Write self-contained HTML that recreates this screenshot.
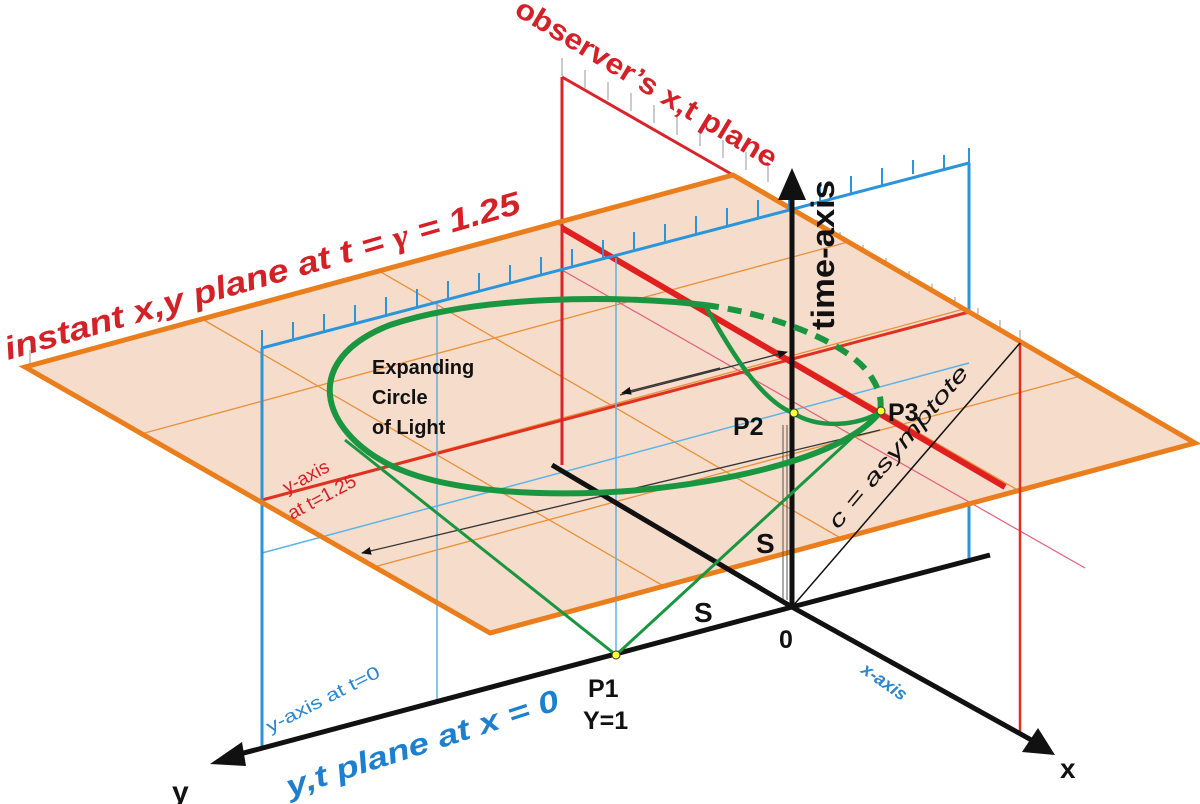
<!DOCTYPE html>
<html><head><meta charset="utf-8"><style>
html,body{margin:0;padding:0;background:#fff;}
svg{display:block;}
text{font-family:"Liberation Sans",Arial,sans-serif;}
</style></head><body>
<svg width="1200" height="804" viewBox="0 0 1200 804" xmlns="http://www.w3.org/2000/svg">
<defs>
<marker id="ah" markerWidth="10" markerHeight="8" refX="9" refY="4" orient="auto" markerUnits="userSpaceOnUse"><path d="M0,0 L10,4 L0,8 Z" fill="#111"/></marker>
</defs>
<g stroke="#b8b8c0" stroke-width="1.5">
<path d="M562,58v18 M585,70v18 M608,82v18 M631,93v18 M654,105v18 M677,117v18 M700,128v18 M723,140v18 M746,152v18 M768,164v18"/>
<path d="M817,220v18 M840,232v18 M863,245v18 M886,258v18 M909,271v18 M932,284v18 M955,297v18 M978,308v18 M1000,320v18 M1020,330v18"/>
<path d="M30,350v18 M48,358v18 M68,370v18 M88,381v18 M110,394v18 M130,405v18 M150,417v18 M170,428v18 M190,440v18 M210,451v18 M230,463v18 M250,474v18 M270,486v18 M290,497v18 M310,509v18 M330,520v18 M350,532v18 M370,543v18 M390,555v18 M410,566v18 M430,578v18 M450,589v18 M470,601v18 M490,613v18"/>
</g>
<path d="M969,163 L969,560" stroke="#2a95db" stroke-width="3" fill="none"/>
<path d="M562,77 L733,175" stroke="#d9242b" stroke-width="3" fill="none"/>
<path d="M25,367 L733,175 L1195,443 L490,633 Z" fill="#f5dccb" stroke="none"/>
<g stroke="#e8913a" stroke-width="1.3" fill="none">
<path d="M202,319 L667,588 M379,271 L844,540 M556,223 L1021,492"/>
<path d="M141,434 L848,242 M257,501 L964,309 M374,567 L1081,376"/>
</g>
<path d="M262,553 L969,363" stroke="#5ab4e8" stroke-width="1.5"/>
<path d="M562,270 L1085,568" stroke="#e0607a" stroke-width="1.2"/>
<path d="M262,500 L969,312" stroke="#e03020" stroke-width="3"/>
<path d="M562,228 L1005,487" stroke="#e02020" stroke-width="6"/>
<path d="M562,77 L562,465" stroke="#d9242b" stroke-width="3"/>
<path d="M262,348 L262,748" stroke="#2a95db" stroke-width="3"/>
<path d="M437,303 L437,700" stroke="#5ab4e8" stroke-width="1.5"/>
<path d="M616,258 L616,655" stroke="#5ab4e8" stroke-width="1.5"/>
<path d="M25,367 L733,175 L1195,443 L490,633 Z" fill="none" stroke="#ea7d1c" stroke-width="5" stroke-linejoin="miter"/>
<path d="M262,348 L969,163" stroke="#2a95db" stroke-width="3" fill="none"/>
<g stroke="#2a95db" stroke-width="2">
<path d="M262,330v18 M293,322v18 M324,314v18 M355,305v18 M386,297v18 M417,289v18 M448,281v18 M479,273v18 M510,265v18 M541,257v18 M572,249v18 M603,240v18 M634,232v18 M665,224v18 M696,216v18 M727,208v18 M758,200v18 M789,192v18 M820,184v18 M851,176v18 M882,168v18 M913,160v14 M944,155v14 M969,148v15"/>
</g>
<path d="M1020,343 L1020,735" stroke="#e03020" stroke-width="2.5"/>
<path d="M792,607 L1020,343" stroke="#111" stroke-width="1.5"/>
<path d="M783,425 L783,600 M787,425 L787,600" stroke="#555" stroke-width="1"/>
<path d="M620,395 L787,352" stroke="#333" stroke-width="1.3" marker-end="url(#ah)"/>
<path d="M720,368 L622,393" stroke="#333" stroke-width="1.3" marker-end="url(#ah)"/>
<path d="M880,430 L362,553" stroke="#333" stroke-width="1.3" marker-end="url(#ah)"/>
<g stroke="#111" stroke-width="5" fill="none">
<path d="M552,465 L792,607"/>
<path d="M792,607 L990,555"/>
<path d="M792,607 L225,758"/>
<path d="M792,607 L1035,742"/>
<path d="M792,607 L792,190"/>
</g>
<path d="M792,168 L778,200 L806,200 Z" fill="#111"/>
<path d="M210,764 L242,742 L246,766 Z" fill="#111"/>
<path d="M1055,755 L1022,752 L1038,728 Z" fill="#111"/>
<g fill="none" stroke="#1a9640">
<path d="M705,305 C620,295 480,295 390,325 C300,360 320,430 390,465 C450,495 560,497 640,490 C760,478 850,450 880,412" stroke-width="6"/>
<path d="M705,305 C780,315 850,345 870,375 C880,390 882,400 880,412" stroke-width="6" stroke-dasharray="14,9"/>
<path d="M705,305 C730,350 760,400 793,413 C820,430 860,425 880,412" stroke-width="4.5"/>
<path d="M345,440 L616,655 L880,412" stroke-width="3"/>
</g>
<circle cx="616" cy="655" r="4" fill="#ffff33" stroke="#333" stroke-width="1"/>
<circle cx="794" cy="413" r="4" fill="#ffff33" stroke="#333" stroke-width="1"/>
<circle cx="881" cy="411" r="4" fill="#ffff33" stroke="#333" stroke-width="1"/>
<text transform="translate(513,14) rotate(31)" font-size="29" font-weight="bold" fill="#d42027" textLength="300" lengthAdjust="spacingAndGlyphs">observer’s x,t plane</text>
<text transform="translate(8,360) rotate(-16)" font-size="32" font-weight="bold" font-style="italic" fill="#d42027" textLength="535" lengthAdjust="spacingAndGlyphs">instant x,y plane  at t = <tspan font-family="Liberation Serif,serif" font-style="italic">γ</tspan> = 1.25</text>
<text transform="translate(834,330) rotate(-90)" font-size="32" font-weight="bold" fill="#111" textLength="150" lengthAdjust="spacingAndGlyphs">time-axis</text>
<text x="372" y="374" font-size="20" font-weight="bold" fill="#111">Expanding</text>
<text x="372" y="404" font-size="20" font-weight="bold" fill="#111">Circle</text>
<text x="372" y="434" font-size="20" font-weight="bold" fill="#111">of  Light</text>
<text transform="translate(287,494) rotate(-28)" font-size="19" fill="#d42027">y-axis</text>
<text transform="translate(292,520) rotate(-28)" font-size="19" fill="#d42027">at t=1.25</text>
<text transform="translate(270,733) rotate(-27)" font-size="18" fill="#2a86cf" textLength="125" lengthAdjust="spacingAndGlyphs">y-axis at t=0</text>
<text transform="translate(290,797) rotate(-18)" font-size="30" font-weight="bold" font-style="italic" fill="#1f7fcf" textLength="285" lengthAdjust="spacingAndGlyphs">y,t plane at x = 0</text>
<text transform="translate(838,530) rotate(-50)" font-size="22" font-style="italic" fill="#111" textLength="205" lengthAdjust="spacingAndGlyphs">c = asymptote</text>
<text transform="translate(860,672) rotate(35)" font-size="18" font-style="italic" font-weight="bold" fill="#2a86cf">x-axis</text>
<text x="588" y="697" font-size="25" font-weight="bold" fill="#111">P1</text>
<text x="583" y="729" font-size="25" font-weight="bold" fill="#111">Y=1</text>
<text x="733" y="435" font-size="25" font-weight="bold" fill="#111">P2</text>
<text x="888" y="421" font-size="25" font-weight="bold" fill="#111">P3</text>
<text x="756" y="553" font-size="28" font-weight="bold" fill="#111">S</text>
<text x="694" y="622" font-size="28" font-weight="bold" fill="#111">S</text>
<text x="779" y="648" font-size="25" font-weight="bold" fill="#111">0</text>
<text x="172" y="802" font-size="30" font-weight="bold" fill="#111">y</text>
<text x="1060" y="778" font-size="28" font-weight="bold" fill="#111">x</text>
</svg>
</body></html>
